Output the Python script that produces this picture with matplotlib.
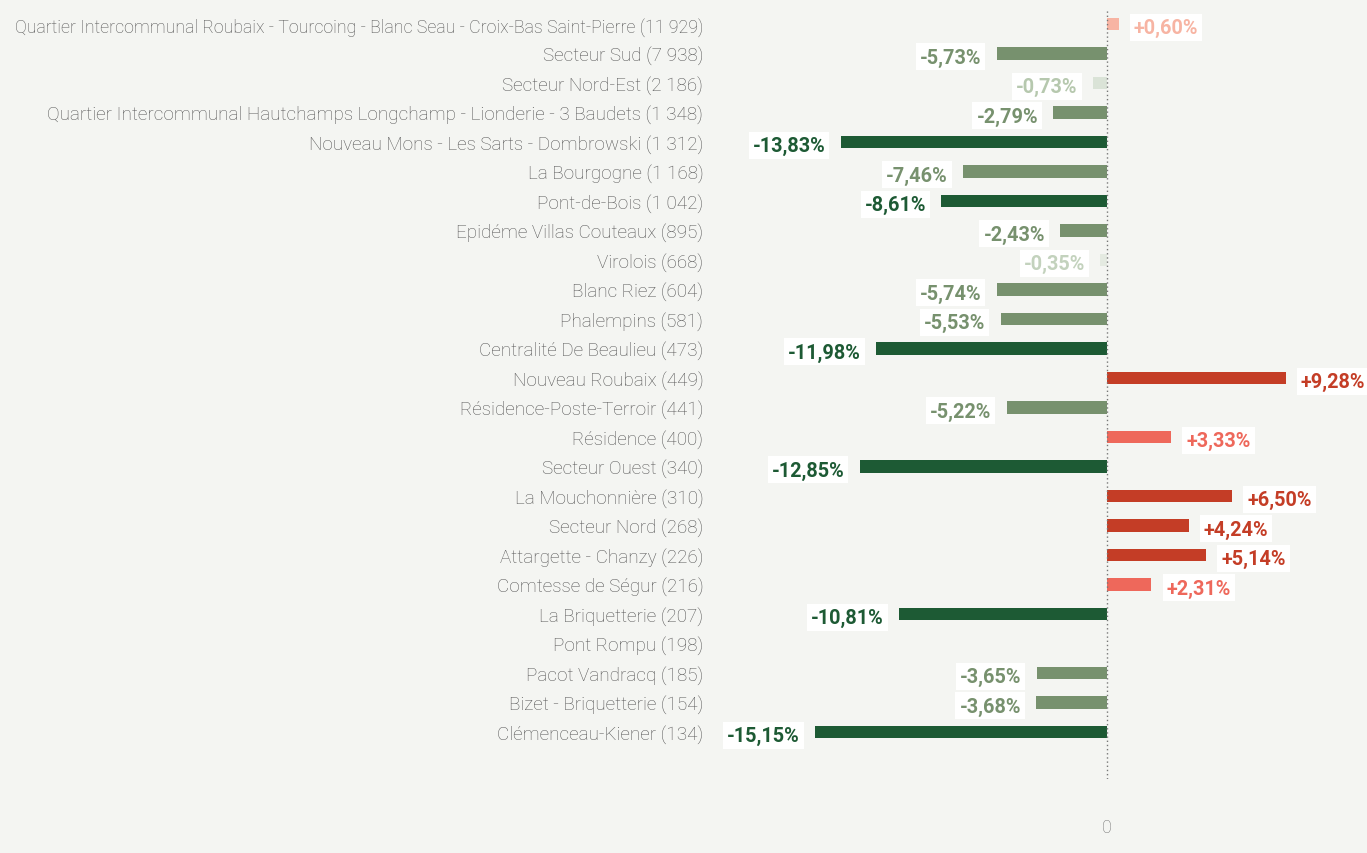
import matplotlib
matplotlib.use("Agg")
import matplotlib.pyplot as plt

# quartiers (population) and change in %
quartiers = [
    "Quartier Intercommunal Roubaix - Tourcoing - Blanc Seau - Croix-Bas Saint-Pierre (11 929)",
    "Secteur Sud (7 938)",
    "Secteur Nord-Est (2 186)",
    "Quartier Intercommunal Hautchamps Longchamp - Lionderie - 3 Baudets (1 348)",
    "Nouveau Mons - Les Sarts - Dombrowski (1 312)",
    "La Bourgogne (1 168)",
    "Pont-de-Bois (1 042)",
    "Epidéme Villas Couteaux (895)",
    "Virolois (668)",
    "Blanc Riez (604)",
    "Phalempins (581)",
    "Centralité De Beaulieu (473)",
    "Nouveau Roubaix (449)",
    "Résidence-Poste-Terroir (441)",
    "Résidence (400)",
    "Secteur Ouest (340)",
    "La Mouchonnière (310)",
    "Secteur Nord (268)",
    "Attargette - Chanzy (226)",
    "Comtesse de Ségur (216)",
    "La Briquetterie (207)",
    "Pont Rompu (198)",
    "Pacot Vandracq (185)",
    "Bizet - Briquetterie (154)",
    "Clémenceau-Kiener (134)",
]
variation = [0.60, -5.73, -0.73, -2.79, -13.83, -7.46, -8.61, -2.43, -0.35, -5.74,
             -5.53, -11.98, 9.28, -5.22, 3.33, -12.85, 6.50, 4.24, 5.14, 2.31,
             -10.81, None, -3.65, -3.68, -15.15]


# bar colour / text colour depending on the value
def colours(v):
    if v < 0:
        if v <= -8:
            return "#1d5a34", "#1d5a34"
        if v <= -1:
            return "#77916e", "#77916e"
        if v <= -0.5:
            return "#dae3d7", "#b6c8ae"
        return "#e4eae1", "#c3d2bd"
    if v >= 4:
        return "#c43d26", "#c43d26"
    if v >= 1:
        return "#ee685b", "#ee685b"
    return "#f7b4a3", "#f7b4a3"


W, H = 1367, 854
bg = "#f4f5f2"
fig = plt.figure(figsize=(W / 100, H / 100), dpi=100, facecolor=bg)
ax = fig.add_axes([720 / W, 1 - 780 / H, (W - 720) / W, (780 - 10) / H])
ax.set_facecolor(bg)

px = 19.25  # pixels per %
ax.set_xlim(-(1107 - 720) / px, (W - 1107) / px)
ax.set_ylim(24 + (780 - 733) / 29.5, -(25 - 10) / 29.5)

for i, v in enumerate(variation):
    if v is None:
        continue
    bc, tc = colours(v)
    ax.barh(i, v, height=0.42, color=bc, zorder=2)
    txt = ("+" if v > 0 else "") + f"{v:.2f}".replace(".", ",") + "%"
    if v < 0:
        ax.annotate(txt, (v, i), xytext=(-11, -2.5), textcoords="offset points",
                    ha="right", va="center", color=tc, fontsize=14.3,
                    fontweight="bold", family="Roboto",
                    bbox=dict(boxstyle="square,pad=0.2", fc="white", ec="none"))
    else:
        ax.annotate(txt, (v, i), xytext=(11, -2.5), textcoords="offset points",
                    ha="left", va="center", color=tc, fontsize=14.3,
                    fontweight="bold", family="Roboto",
                    bbox=dict(boxstyle="square,pad=0.2", fc="white", ec="none"))

ax.axvline(0, color="#777777", lw=1, ls=(0, (1, 2)), zorder=3)

ax.set_yticks(range(len(quartiers)))
ax.set_yticklabels(quartiers, fontsize=13.6, color="#555555", family="Roboto",
                   fontweight="light")
# the longest label is squeezed to fit in the original
ax.get_yticklabels()[0].set_fontsize(12.8)
ax.tick_params(axis="y", length=0, pad=12)
ax.set_xticks([0])
ax.set_xticklabels(["0"], fontsize=13, color="#777777", family="Roboto",
                   fontweight="light")
ax.tick_params(axis="x", length=0, pad=28)
for s in ax.spines.values():
    s.set_visible(False)

fig.savefig("out.png", dpi=100, facecolor=bg)
